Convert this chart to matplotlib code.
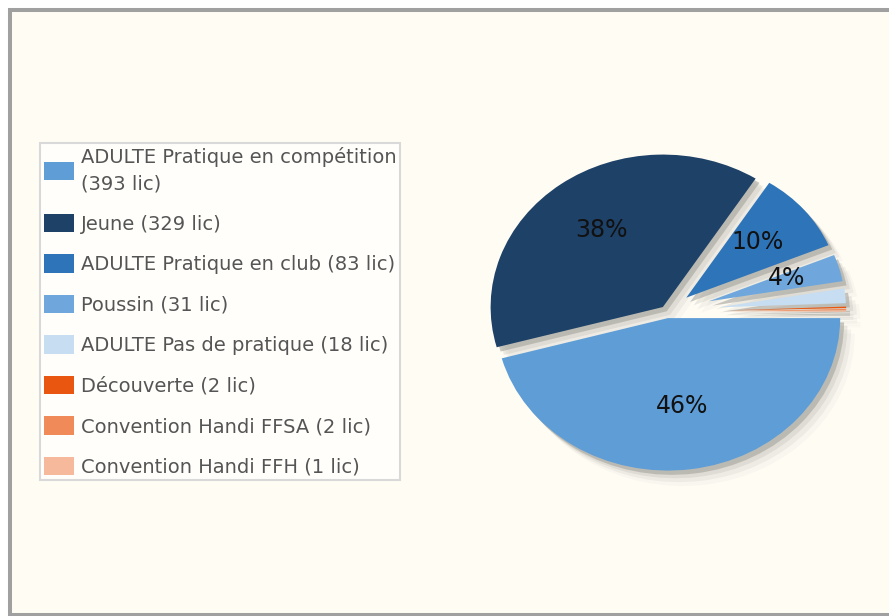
import numpy as np
import matplotlib
matplotlib.use("Agg")
import matplotlib.pyplot as plt
from matplotlib import patches as mpatches

# ================================
# DATA
# ================================
categories = [
    "ADULTE Pratique en compétition\n(393 lic)",
    "Jeune (329 lic)",
    "ADULTE Pratique en club (83 lic)",
    "Poussin (31 lic)",
    "ADULTE Pas de pratique (18 lic)",
    "Découverte (2 lic)",
    "Convention Handi FFSA (2 lic)",
    "Convention Handi FFH (1 lic)",
]
licences = [393, 329, 83, 31, 18, 2, 2, 1]

# ================================
# STYLE
# ================================
colors = ["#5e9dd6", "#1e4168", "#2e74b8", "#6fa7dc",
          "#c6ddf2", "#e8560f", "#f08a58", "#f6b99b"]
explode = [0.04, 0.04, 0.145, 0.25, 0.30, 0.35, 0.35, 0.35]
outer = 1.03


def pct_label(p):
    return f"{p:.0f}%" if p >= 3 else ""


W, H = 889, 616
fig = plt.figure(figsize=(W / 100, H / 100), dpi=100, facecolor="white")

# outer frame of the chart
frame = mpatches.Rectangle((9.5 / W, 1.5 / H), (900 - 9.5) / W, 605 / H,
                           transform=fig.transFigure, facecolor="#fffcf4",
                           edgecolor="#a0a0a0", linewidth=2.9, zorder=-1)
fig.add_artist(frame)

# ================================
# PIE
# ================================
cx, cy, rx, ry = 667, 312, 174, 154
ax = fig.add_axes([(cx - 1.2 * rx) / W, (H - cy - 1.2 * ry) / H,
                   2.4 * rx / W, 2.4 * ry / H])
wedges, texts, autotexts = ax.pie(
    licences, explode=explode, colors=colors, startangle=0,
    counterclock=False, autopct=pct_label, pctdistance=0.6,
    wedgeprops={"linewidth": 0},
    shadow={"ox": 0.016, "oy": -0.02, "facecolor": "#b3b1a9",
            "edgecolor": "none", "alpha": 0.7},
    textprops={"fontsize": 17, "color": "#111111"},
)
ax.set_aspect("auto")
ax.set_xlim(-1.2, 1.2)
ax.set_ylim(-1.2, 1.2)

for w, e, t in zip(wedges, explode, autotexts):
    r = outer - e
    w.set_radius(r)
    mid = np.radians((w.theta1 + w.theta2) / 2)
    t.set_position((w.center[0] + 0.6 * r * np.cos(mid),
                    w.center[1] + 0.6 * r * np.sin(mid) + 0.02))
    # soft blurred shadow
    for off, a in [(0.03, 0.22), (0.045, 0.13), (0.06, 0.07)]:
        ax.add_patch(mpatches.Shadow(w, off, -off * 1.2, facecolor="#a9a8a0",
                                     edgecolor="none", alpha=a))

# ================================
# LEGEND
# ================================
leg = fig.legend(
    wedges, categories, loc="upper left",
    bbox_to_anchor=(40 / W, 1 - 143 / H), borderaxespad=0,
    fontsize=14, handlelength=1.54, handleheight=1.08, handletextpad=0.36,
    labelspacing=1.06, borderpad=0.2, fancybox=False,
    edgecolor="#d9d9d9", facecolor="#fffefb", framealpha=1,
    labelcolor="#555555",
)
leg.get_frame().set_linewidth(1.5)
for t in leg.get_texts():
    t.set_linespacing(1.5)

fig.savefig("out.png", dpi=100, facecolor="white")
